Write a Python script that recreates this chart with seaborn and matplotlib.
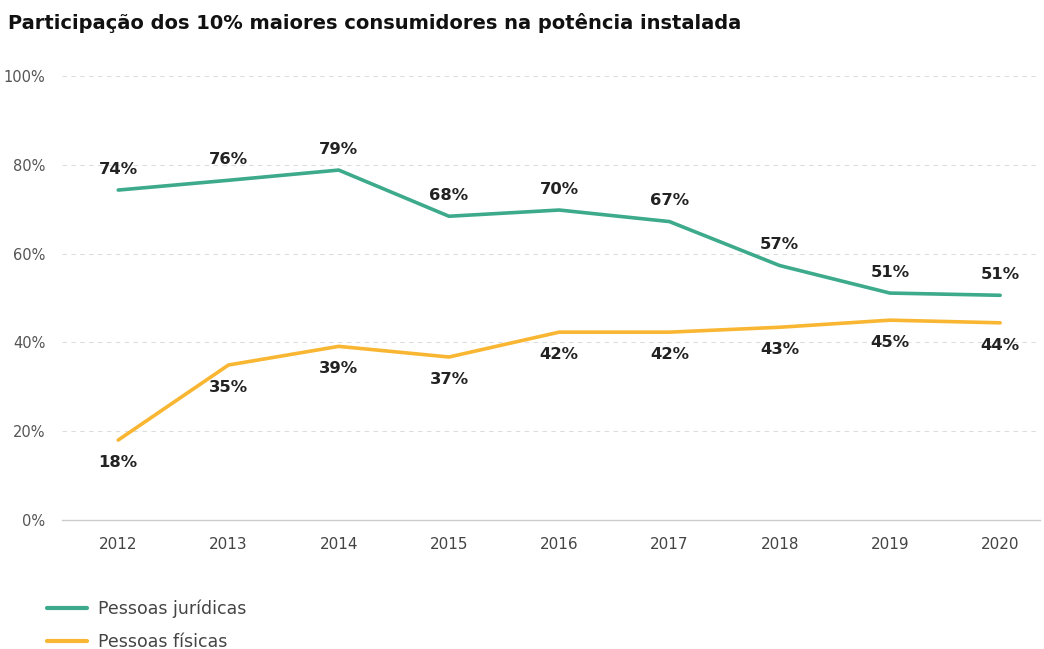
import numpy as np
import pandas as pd
import matplotlib
matplotlib.use("Agg")
import matplotlib.pyplot as plt
import seaborn as sns

years = [2012, 2013, 2014, 2015, 2016, 2017, 2018, 2019, 2020]
juridicas = [74.3, 76.5, 78.8, 68.4, 69.8, 67.2, 57.3, 51.1, 50.6]
fisicas = [18.0, 34.9, 39.1, 36.7, 42.3, 42.3, 43.4, 45.0, 44.4]
series_names = ["Pessoas jurídicas", "Pessoas físicas"]
colors = ["#3DAA8C", "#F8B632"]

df = pd.DataFrame({
    "ano": years * 2,
    "valor": juridicas + fisicas,
    "serie": [series_names[0]] * len(years) + [series_names[1]] * len(years),
})

sns.set_theme(style="white")
plt.rcParams["font.family"] = ["DejaVu Sans"]

fig = plt.figure(figsize=(10.44, 6.49), dpi=100)
ax = fig.add_axes([0.0594, 0.1988, 0.9366, 0.6842])

sns.lineplot(data=df, x="ano", y="valor", hue="serie", palette=colors,
             linewidth=2.6, ax=ax, legend=False)

ax.set_xlim(2011.49, 2020.36)
ax.set_ylim(0, 100)
ax.set_xticks(years)
ax.set_xticklabels([str(y) for y in years], fontsize=11, color="#444444")
ax.set_yticks([0, 20, 40, 60, 80, 100])
ax.set_yticklabels([f"{v}%" for v in [0, 20, 40, 60, 80, 100]], fontsize=10.5, color="#555555")
ax.tick_params(axis="both", length=0)
ax.tick_params(axis="y", pad=12)
ax.tick_params(axis="x", pad=12)
ax.set_xlabel("")
ax.set_ylabel("")
for v in [20, 40, 60, 80, 100]:
    ax.axhline(v, color="#dddddd", linestyle=(0, (4, 4)), linewidth=0.8, zorder=0)
for s in ["top", "right", "left"]:
    ax.spines[s].set_visible(False)
ax.spines["bottom"].set_color("#cccccc")
ax.spines["bottom"].set_linewidth(1)

for x, v in zip(years, juridicas):
    ax.annotate(f"{round(v)}%", (x, v), xytext=(0, 15), textcoords="offset points",
                ha="center", va="center", fontsize=11.8, fontweight="bold", color="#222222")
for x, v in zip(years, fisicas):
    ax.annotate(f"{round(v)}%", (x, v), xytext=(0, -16), textcoords="offset points",
                ha="center", va="center", fontsize=11.8, fontweight="bold", color="#222222")

fig.text(0.008, 0.965, "Participação dos 10% maiores consumidores na potência instalada",
         fontsize=14, fontweight="bold", color="#111111", va="center", ha="left")

handles = [plt.Line2D([], [], color=c, linewidth=3) for c in colors]
fig.legend(handles, series_names, loc="upper left", bbox_to_anchor=(0.030, 0.1),
           frameon=False, fontsize=12.5, handlelength=2.3, handletextpad=0.65,
           labelspacing=0.85, labelcolor="#444444")

fig.savefig("out.png", dpi=100)
